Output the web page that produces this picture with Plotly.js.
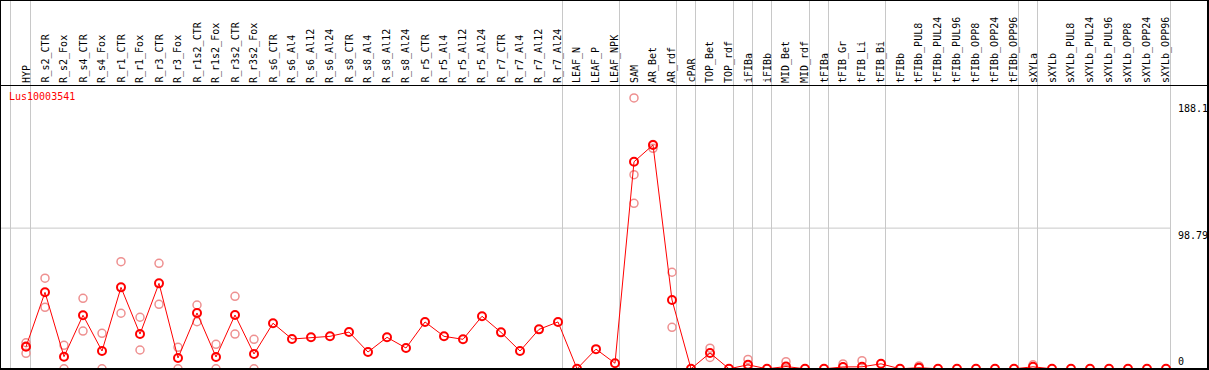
<!DOCTYPE html>
<html>
<head>
<meta charset="utf-8">
<script src="https://cdn.plot.ly/plotly-3.0.1.min.js"></script>
<style>html,body{margin:0;padding:0;background:#fff;}#chart{width:1209px;height:370px;}</style>
</head>
<body>
<div id="chart"></div>
<script>
const categories = ["HYP","R_s2_CTR","R_s2_Fox","R_s4_CTR","R_s4_Fox","R_r1_CTR","R_r1_Fox","R_r3_CTR","R_r3_Fox","R_r1s2_CTR","R_r1s2_Fox","R_r3s2_CTR","R_r3s2_Fox","R_s6_CTR","R_s6_Al4","R_s6_Al12","R_s6_Al24","R_s8_CTR","R_s8_Al4","R_s8_Al12","R_s8_Al24","R_r5_CTR","R_r5_Al4","R_r5_Al12","R_r5_Al24","R_r7_CTR","R_r7_Al4","R_r7_Al12","R_r7_Al24","LEAF_N","LEAF_P","LEAF_NPK","SAM","AR_Bet","AR_rdf","cPAR","TOP_Bet","TOP_rdf","iFIBa","iFIBb","MID_Bet","MID_rdf","tFIBa","tFIB_Gr","tFIB_Li","tFIB_Bi","tFIBb","tFIBb_PUL8","tFIBb_PUL24","tFIBb_PUL96","tFIBb_OPP8","tFIBb_OPP24","tFIBb_OPP96","sXYLa","sXYLb","sXYLb_PUL8","sXYLb_PUL24","sXYLb_PUL96","sXYLb_OPP8","sXYLb_OPP24","sXYLb_OPP96"];

const means = [15.5,53.7,8.5,37.6,12.5,57.2,24.4,60.0,7.6,39.2,8.3,37.8,10.4,32.0,20.9,22.1,22.8,25.8,11.8,22.1,14.6,32.9,22.8,20.7,36.9,25.6,12.5,27.7,32.9,0,13.8,3.9,145.4,157.2,48.3,0,11.1,0,2.8,0,1.6,0,0,1.3,1.4,3.5,0,0.8,0,0,0,0,0,1.4,0,0,0,0,0,0,0];

const rep1 = [18.3,63.6,16.5,49.5,24.9,75.2,36.2,74.1,15.1,44.8,17.2,50.9,20.7,null,null,null,null,null,null,null,null,null,null,null,null,null,null,null,null,null,null,null,190.2,157.5,67.8,null,14.5,null,6.6,null,5.0,null,null,3.4,5.7,null,null,2.0,null,null,null,null,null,2.8,null,null,null,null,null,null,null];
const rep2 = [16.0,43.2,0,26.5,0,39.0,13.2,45.3,0,33.1,0,24.4,0,null,null,null,null,null,null,null,null,null,null,null,null,null,null,null,null,null,null,null,136.3,154.8,29.1,null,8.0,null,0,null,0,null,null,null,null,null,null,null,null,null,null,null,null,null,null,null,null,null,null,null,null];
const rep3 = [10.9,null,null,null,null,null,null,null,null,null,null,null,null,null,null,null,null,null,null,null,null,null,null,null,null,null,null,null,null,null,null,null,116.2,null,null,null,null,null,null,null,null,null,null,null,null,null,null,null,null,null,null,null,null,null,null,null,null,null,null,null,null];

const groupEnds = [0,28,31,34,35,37,38,39,41,42,45,52,53,60];
const yTickValues = [188.1, 98.79, 0];
const yTickLabels = ["188.1","98.79","0"];
const geneName = "Lus10003541";

const W = 1209, H = 370;
const px0 = 26, step = 19;          // pixel of first category, spacing
const zeroPx = 368.8, pxPerUnit = 1.424;
const xr = [-px0/step, (W-px0)/step];
const yr = [-(H-zeroPx)/pxPerUnit, zeroPx/pxPerUnit];
const pxToIdx = p => (p-px0)/step;
const pyToPaper = p => 1 - p/H;
const pxToPaper = p => p/W;

const idx = categories.map((c,i)=>i);
const repX = [], repY = [];
[rep1,rep2,rep3].forEach(arr => arr.forEach((v,i)=>{ if(v!==null){repX.push(i); repY.push(v);} }));

const traces = [
  {x: repX, y: repY, type:'scatter', mode:'markers', hoverinfo:'skip',
   marker:{symbol:'circle-open', size:8, color:'#ee9090', line:{width:1.5, color:'#ee9090'}}, cliponaxis:true},
  {x: idx, y: means, type:'scatter', mode:'lines+markers',
   line:{color:'#ff0000', width:1},
   marker:{symbol:'circle-open', size:8, color:'#ff0000', line:{width:2, color:'#ff0000'}}, cliponaxis:true}
];

const shapes = [];
const gray = '#c8c8c8';
// gray separators
shapes.push({type:'line', xref:'x', yref:'paper', x0:pxToIdx(10.5), x1:pxToIdx(10.5), y0:0, y1:1, line:{color:gray, width:1}, layer:'below'});
groupEnds.forEach(k=>{
  const xx = k + 4.5/step;
  shapes.push({type:'line', xref:'x', yref:'paper', x0:xx, x1:xx, y0:0, y1:1, line:{color:gray, width:1}, layer:'below'});
});
// horizontal mid line
shapes.push({type:'line', xref:'paper', yref:'y', x0:0, x1:pxToPaper(1170.5), y0:yTickValues[1], y1:yTickValues[1], line:{color:gray, width:1}, layer:'below'});
// frame
const blk = '#000000';
shapes.push({type:'line', xref:'paper', yref:'paper', x0:pxToPaper(0.5), x1:pxToPaper(0.5), y0:0, y1:1, line:{color:blk, width:1}});
shapes.push({type:'line', xref:'paper', yref:'paper', x0:0, x1:1, y0:pyToPaper(0.5), y1:pyToPaper(0.5), line:{color:blk, width:1}});
shapes.push({type:'line', xref:'paper', yref:'paper', x0:0, x1:pxToPaper(1208), y0:pyToPaper(85.5), y1:pyToPaper(85.5), line:{color:blk, width:1}});
shapes.push({type:'line', xref:'paper', yref:'paper', x0:pxToPaper(1208), x1:pxToPaper(1208), y0:0, y1:1, line:{color:blk, width:2}});
shapes.push({type:'line', xref:'paper', yref:'paper', x0:0, x1:pxToPaper(1209), y0:pyToPaper(369), y1:pyToPaper(369), line:{color:blk, width:2}});

const font = 'DejaVu Sans Mono, monospace';
const annotations = categories.map((c,i)=>({
  x:i, xref:'x', y:pyToPaper(84), yref:'paper', text:c, showarrow:false,
  textangle:-90, xanchor:'center', yanchor:'bottom', font:{family:font, size:10, color:'#000'}, borderpad:0
}));
annotations.push({x:pxToPaper(8), xref:'paper', y:pyToPaper(90), yref:'paper', text:geneName, showarrow:false,
  xanchor:'left', yanchor:'top', font:{family:font, size:10, color:'#ff0000'}, borderpad:0});
yTickValues.forEach((v,j)=>{
  const isZero = v===0;
  annotations.push({x:pxToPaper(1177), xref:'paper', y:isZero? pyToPaper(368) : v, yref: isZero?'paper':'y',
    text:yTickLabels[j], showarrow:false, xanchor:'left', yanchor: isZero?'bottom':'top',
    yshift: isZero?0:-1, font:{family:font, size:10, color:'#000'}, borderpad:0});
});

const layout = {
  width:W, height:H, margin:{l:0,r:0,t:0,b:0,pad:0},
  paper_bgcolor:'#fff', plot_bgcolor:'rgba(0,0,0,0)', showlegend:false,
  xaxis:{range:xr, visible:false, fixedrange:true},
  yaxis:{range:yr, visible:false, fixedrange:true},
  shapes:shapes, annotations:annotations
};
Plotly.newPlot('chart', traces, layout, {staticPlot:true, displayModeBar:false});
</script>
</body>
</html>
